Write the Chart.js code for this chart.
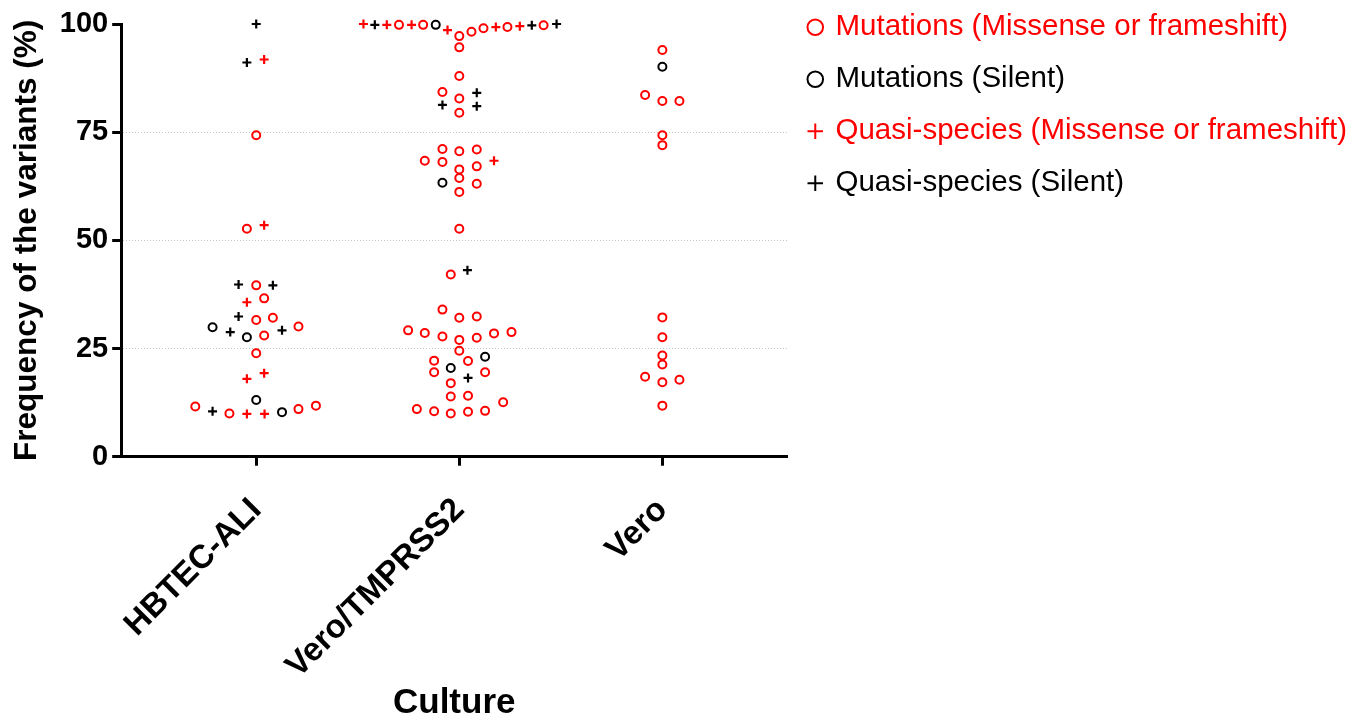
<!DOCTYPE html>
<html>
<head>
<meta charset="utf-8">
<title>Variant frequency by culture</title>
<script src="https://cdn.jsdelivr.net/npm/chart.js@4.4.1/dist/chart.umd.min.js"></script>
<style>
  body { margin: 0; background: #fff; }
  #wrap { width: 1365px; height: 721px; }
</style>
</head>
<body>
<div id="wrap"><canvas id="variantsChart" width="1365" height="721"></canvas></div>
<script>
const cultures = ['HBTEC-ALI', 'Vero/TMPRSS2', 'Vero'];
const yTicks = [0, 25, 50, 75, 100];

// [culture index, horizontal spread in the swarm, frequency %]
const mutationsMissense = [
    [0, -0.046, 52.7], [0, 0, 74.3], [0, 0, 39.6], [0, 0.039, 36.6], [0, 0, 31.6],
    [0, 0.082, 32.1], [0, 0.039, 28.0], [0, 0.208, 30.1], [0, 0, 23.9], [0, -0.300, 11.6],
    [0, -0.132, 10.0], [0, 0.208, 11.0], [0, 0.294, 11.8],
    [1, -0.297, 99.8], [1, -0.178, 99.8], [1, 0, 97.2], [1, 0.060, 98.2], [1, 0.119, 99.0],
    [1, 0.237, 99.3], [1, 0.415, 99.7], [1, 0, 94.6], [1, 0, 88.0], [1, -0.083, 84.3],
    [1, 0, 82.8], [1, 0, 79.5], [1, -0.083, 71.1], [1, 0, 70.6], [1, 0.086, 71.0],
    [1, -0.170, 68.4], [1, -0.083, 68.1], [1, 0, 66.4], [1, 0.086, 67.1], [1, 0, 64.4],
    [1, 0.086, 63.1], [1, 0, 61.2], [1, 0, 52.7], [1, -0.042, 42.1], [1, -0.083, 34.0],
    [1, 0, 32.1], [1, 0.086, 32.4], [1, -0.252, 29.2], [1, -0.170, 28.6], [1, -0.083, 27.8],
    [1, 0, 27.0], [1, 0.086, 27.5], [1, 0.171, 28.5], [1, 0.257, 28.8], [1, 0, 24.5],
    [1, -0.124, 22.2], [1, 0.043, 22.1], [1, -0.124, 19.5], [1, 0.127, 19.5], [1, -0.042, 17.0],
    [1, -0.042, 13.9], [1, 0.043, 14.1], [1, 0.216, 12.6], [1, -0.209, 11.0], [1, -0.124, 10.5],
    [1, -0.042, 10.0], [1, 0.043, 10.4], [1, 0.127, 10.6],
    [2, 0, 94.0], [2, -0.085, 83.6], [2, 0, 82.2], [2, 0.084, 82.2], [2, 0, 74.3],
    [2, 0, 72.0], [2, 0, 32.2], [2, 0, 27.6], [2, 0, 23.4], [2, 0, 21.3],
    [2, -0.085, 18.5], [2, 0.084, 17.8], [2, 0, 17.2], [2, 0, 11.8]
];

const mutationsSilent = [
    [0, -0.215, 29.9], [0, -0.046, 27.6], [0, 0, 13.1], [0, 0.127, 10.3],
    [1, -0.116, 99.8], [1, -0.083, 63.3], [1, 0.127, 23.1], [1, -0.042, 20.5],
    [2, 0, 90.1]
];

const quasiMissense = [
    [0, 0.039, 91.8], [0, 0.039, 53.5], [0, -0.046, 35.7], [0, -0.046, 18.0],
    [0, 0.039, 19.3], [0, -0.046, 9.9], [0, 0.041, 9.9],
    [1, -0.472, 100], [1, -0.357, 99.8], [1, -0.235, 99.8], [1, -0.058, 98.6],
    [1, 0.180, 99.3], [1, 0.298, 99.5], [1, 0.171, 68.4]
];

const quasiSilent = [
    [0, 0, 100], [0, -0.046, 91.1], [0, -0.087, 39.8], [0, 0.082, 39.6],
    [0, -0.087, 32.4], [0, -0.128, 28.8], [0, 0.127, 29.2], [0, -0.215, 10.5],
    [1, -0.416, 99.8], [1, 0.357, 99.7], [1, 0.479, 100], [1, 0.086, 84.1],
    [1, -0.083, 81.3], [1, 0.086, 81.0], [1, 0.040, 43.1], [1, 0.043, 18.2]
];

const RED = '#ff0000';
const BLACK = '#000000';
const FONT = "'Liberation Sans', Arial, sans-serif";

const toPoints = rows => rows.map(([c, dx, v]) => ({ x: c + dx, y: v }));

function series(label, rows, color, style) {
    const isCross = style === 'cross';
    return {
        label,
        data: toPoints(rows),
        pointStyle: style,
        pointRadius: isCross ? 4.5 : 4,
        pointBorderWidth: isCross ? 2.2 : 2,
        pointBorderColor: color,
        pointBackgroundColor: 'rgba(0,0,0,0)',
        borderColor: color,
        backgroundColor: 'rgba(0,0,0,0)',
        clip: false
    };
}

Chart.defaults.font.family = FONT;
Chart.defaults.color = BLACK;

// pulls the right-hand legend up level with the top of the plot
const legendNudge = {
    id: 'legendNudge',
    afterLayout(chart) {
        const lg = chart.legend;
        const shift = lg.top + 10;
        lg.top -= shift;
        lg.bottom -= shift;
    }
};

const ctx = document.getElementById('variantsChart').getContext('2d');
new Chart(ctx, {
    type: 'scatter',
    data: {
        datasets: [
            series('Mutations (Missense or frameshift)', mutationsMissense, RED, 'circle'),
            series('Mutations (Silent)', mutationsSilent, BLACK, 'circle'),
            series('Quasi-species (Missense or frameshift)', quasiMissense, RED, 'cross'),
            series('Quasi-species (Silent)', quasiSilent, BLACK, 'cross')
        ]
    },
    options: {
        responsive: false,
        animation: false,
        events: [],
        layout: { padding: { top: 24, left: 8, right: 8, bottom: 0 } },
        scales: {
            x: {
                type: 'linear',
                min: -0.665,
                max: 2.615,
                afterBuildTicks: axis => {
                    axis.ticks = cultures.map((_, i) => ({ value: i }));
                },
                ticks: {
                    autoSkip: false,
                    minRotation: 45,
                    maxRotation: 45,
                    padding: 25,
                    font: { size: 33, weight: 'bold' },
                    callback: value => cultures[value]
                },
                grid: {
                    drawOnChartArea: false,
                    tickLength: 9,
                    tickWidth: 3,
                    tickColor: BLACK
                },
                border: { color: BLACK, width: 3 },
                title: {
                    display: true,
                    text: 'Culture',
                    font: { size: 35, weight: 'bold', lineHeight: 1 },
                    // rotated labels reserve more room than they use; let the title sit in it
                    padding: { top: -25, bottom: 0 }
                }
            },
            y: {
                min: 0,
                max: 100,
                afterBuildTicks: axis => {
                    axis.ticks = yTicks.map(v => ({ value: v }));
                },
                ticks: {
                    padding: 4,
                    font: { size: 29, weight: 'bold' }
                },
                grid: {
                    color: c => (c.tick && c.tick.value > 0 && c.tick.value < 100) ? '#c4c4c4' : 'rgba(0,0,0,0)',
                    lineWidth: 1,
                    tickLength: 9,
                    tickWidth: 3,
                    tickColor: BLACK
                },
                border: { color: BLACK, width: 3, dash: [1, 2] },
                title: {
                    display: true,
                    text: 'Frequency of the variants (%)',
                    font: { size: 31.5, weight: 'bold' },
                    padding: { top: 0, bottom: 10 }
                }
            }
        },
        plugins: {
            tooltip: { enabled: false },
            legend: {
                display: true,
                position: 'right',
                align: 'start',
                maxWidth: 620,
                labels: {
                    usePointStyle: true,
                    boxWidth: 11,
                    boxHeight: 11,
                    padding: 22.5,
                    font: { size: 29.5 },
                    generateLabels: chart => chart.data.datasets.map((ds, i) => ({
                        text: ds.label,
                        fontColor: ds.borderColor,
                        strokeStyle: ds.borderColor,
                        fillStyle: 'rgba(0,0,0,0)',
                        lineWidth: 2,
                        pointStyle: ds.pointStyle,
                        datasetIndex: i,
                        hidden: false
                    }))
                }
            }
        }
    },
    plugins: [legendNudge]
});
</script>
</body>
</html>
